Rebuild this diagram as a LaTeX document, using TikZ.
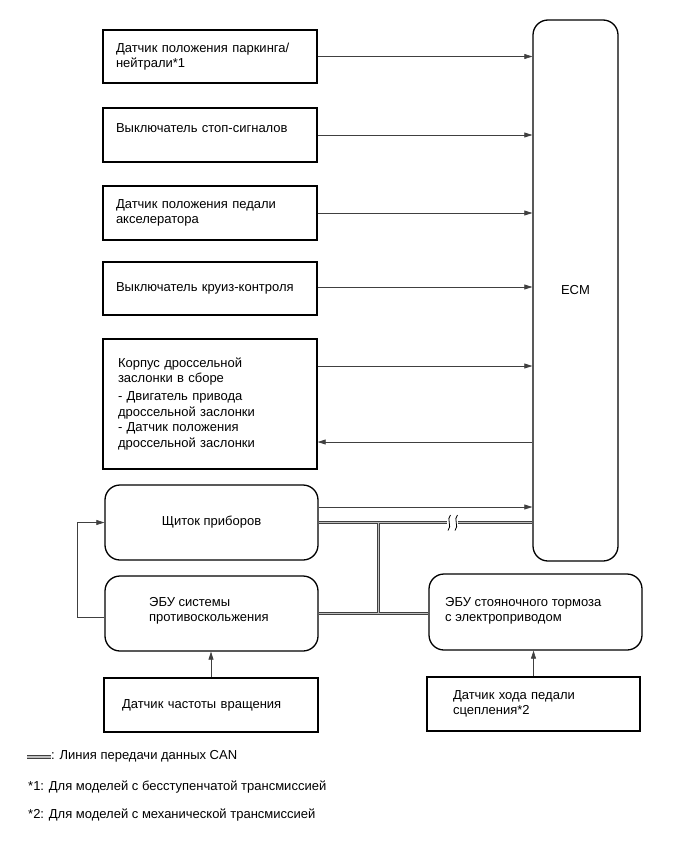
\documentclass[tikz,border=0pt]{standalone}
\usepackage{fontspec}
\setmainfont{Liberation Sans}
\usetikzlibrary{arrows.meta}
\begin{document}
\begin{tikzpicture}[x=1pt,y=-1pt,
  every node/.style={font=\fontsize{13}{15.5}\selectfont},
  sqbox/.style={draw=black, line width=1.3pt, align=left, inner ysep=2pt},
  rbox/.style={draw=black, line width=1.3pt, rounded corners=15pt, inner sep=0pt},
  txt/.style={inner sep=0pt, align=left, anchor=west},
  conn/.style={draw=black!75, line width=0.7pt},
  arr/.style={conn, -{Triangle[length=8pt,width=5pt]}},
  canout/.style={draw=black!75, line width=3.6pt},
  canin/.style={draw=gray!50, line width=1.3pt}
]
\useasboundingbox (0,0) rectangle (691,854);

% ECM
\node[rbox, minimum width=85pt, minimum height=541pt] (ecm) at (575.5,290.5) {ECM};

% input boxes
\node[sqbox, inner xsep=13pt, text width=188pt, minimum height=53pt] (b1) at (210,56.5)
  {Датчик положения паркинга/\\нейтрали*1};
\node[sqbox, inner xsep=13pt, text width=188pt, minimum height=54pt] (b2) at (210,135)
  {Выключатель стоп-сигналов\\[-5.5pt]\strut};
\node[sqbox, inner xsep=13pt, text width=188pt, minimum height=54pt] (b3) at (210,213)
  {Датчик положения педали\\акселератора};
\node[sqbox, inner xsep=13pt, text width=188pt, minimum height=53pt] (b4) at (210,288.5)
  {Выключатель круиз-контроля};
\node[sqbox, inner xsep=15pt, text width=184pt, minimum height=130pt] (b5) at (210,404)
  {Корпус дроссельной\\заслонки в сборе\\[2.5pt]- Двигатель привода\\дроссельной заслонки\\- Датчик положения\\дроссельной заслонки};

% lower boxes
\node[rbox, minimum width=213pt, minimum height=75pt] (ip) at (211.5,522.5) {Щиток приборов};
\node[rbox, minimum width=213pt, minimum height=75pt] (abs) at (211.5,613.5) {};
\node[txt] (abst) at (149,611) {ЭБУ системы\\противоскольжения};
\node[rbox, minimum width=213pt, minimum height=76pt] (pb) at (535.5,612) {};
\node[txt] (pbt) at (445,611) {ЭБУ стояночного тормоза\\с электроприводом};
\node[sqbox, inner xsep=18pt, text width=178pt, minimum height=54pt] (ss) at (211,705)
  {Датчик частоты вращения};
\node[sqbox, inner xsep=26pt, text width=161pt, minimum height=54pt] (cs) at (533.5,704)
  {Датчик хода педали\\сцепления*2};

% arrows to ECM
\draw[arr] (b1.east) -- (b1.east -| ecm.west);
\draw[arr] (b2.east) -- (b2.east -| ecm.west);
\draw[arr] (b3.east) -- (b3.east -| ecm.west);
\draw[arr] ([yshift=1.5pt]b4.east) -- ([yshift=1.5pt]b4.east -| ecm.west);
\draw[arr] ([yshift=38pt]b5.east) -- ([yshift=38pt]b5.east -| ecm.west);
\draw[arr] ([yshift=-38pt]b5.east -| ecm.west) -- ([yshift=-38pt]b5.east);
\draw[arr] ([yshift=15.5pt]ip.east) -- ([yshift=15.5pt]ip.east -| ecm.west);

% sensor arrows
\draw[arr] (ss.north) -- (ss.north |- abs.south);
\draw[arr] (cs.north) -- (cs.north |- pb.south);

% feedback ABS -> instrument panel
\draw[arr] ([yshift=-3.5pt]abs.west) -- ++(-27,0) |- (ip.west);

% CAN lines
\coordinate (brkL) at (447,522.5);
\coordinate (brkR) at (458,522.5);
\coordinate (jt) at (378.5,522.5);
\coordinate (jb) at (378.5,613.5);
\foreach \st in {canout,canin}{
  \draw[\st] (ip.east) -- (brkL);
  \draw[\st] (brkR) -- (brkR -| ecm.west);
  \draw[\st] (jt) -- (jb);
  \draw[\st] (abs.east) -- (abs.east -| pb.west);
}
\draw[black, line width=0.8pt] (450.5,515) .. controls (446,519) and (452.5,526) .. (448,530.5);
\draw[black, line width=0.8pt] (457.5,515) .. controls (453,519) and (459.5,526) .. (455,530.5);

% legend
\coordinate (lgA) at (27,757);
\coordinate (lgB) at (51,757);
\draw[canout] (lgA) -- (lgB);
\draw[canin] (lgA) -- (lgB);
\node[txt] (lgt) at (51,756) {: Линия передачи данных CAN};
\node[txt] (fn1) at (28,787) {*1: Для моделей с бесступенчатой трансмиссией};
\node[txt] (fn2) at (28,815) {*2: Для моделей с механической трансмиссией};
\end{tikzpicture}
\end{document}
